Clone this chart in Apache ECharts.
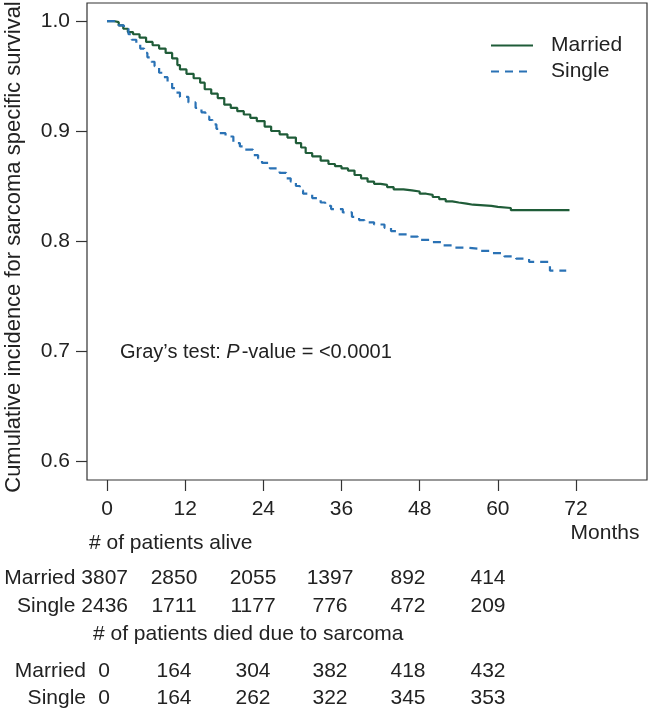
<!DOCTYPE html>
<html>
<head>
<meta charset="utf-8">
<script src="https://cdn.jsdelivr.net/npm/echarts@6/dist/echarts.min.js"></script>
<style>
html,body{margin:0;padding:0;background:#fff;}
#c{width:650px;height:709px;}
</style>
</head>
<body>
<div id="c"></div>
<script>
// ---- data ----
var xTicks = [0, 12, 24, 36, 48, 60, 72];
var yTicks = [0.6, 0.7, 0.8, 0.9, 1.0];
var seriesNames = ['Married', 'Single'];
var married = [
  [0,1.0],[1.0,0.999],[1.8,0.996],[2.5,0.993],[3.2,0.990],[4.0,0.988],[5.0,0.985],[6.0,0.981],
  [7.0,0.978],[8.0,0.975],[9.0,0.971],[10.0,0.966],[10.8,0.960],[11.2,0.956],[12.2,0.952],
  [13.3,0.948],[14.3,0.944],[15.0,0.938],[16.0,0.934],[17.0,0.930],[18.0,0.924],[19.0,0.921],
  [20.0,0.918],[21.0,0.915],[22.0,0.912],[23.0,0.909],[24.2,0.904],[25.2,0.900],[26.5,0.897],
  [27.7,0.894],[29.0,0.889],[29.8,0.885],[30.5,0.880],[31.5,0.877],[32.8,0.873],[34.0,0.870],
  [35.0,0.868],[36.0,0.866],[37.0,0.864],[38.0,0.860],[39.0,0.857],[40.0,0.854],[41.0,0.852],
  [42.0,0.851],[43.0,0.849],[44.0,0.847],[45.5,0.846],[46.8,0.845],[48.0,0.843],[49.0,0.842],
  [50.0,0.840],[51.0,0.838],[52.0,0.836],[53.0,0.835],[54.0,0.834],[55.2,0.833],[56.2,0.832],
  [59.0,0.831],[60.0,0.830],[62.0,0.828],[71.0,0.828]
];
var single = [
  [0,1.0],[1.0,0.999],[1.8,0.996],[2.6,0.993],[3.3,0.988],[3.8,0.983],[4.5,0.979],[5.1,0.975],
  [5.7,0.971],[6.2,0.967],[6.8,0.963],[7.3,0.959],[8.0,0.953],[8.7,0.949],[9.3,0.945],[10.0,0.939],
  [10.6,0.935],[11.2,0.931],[12.5,0.926],[13.6,0.921],[14.5,0.917],[15.1,0.913],[15.7,0.910],
  [16.2,0.906],[16.8,0.902],[17.3,0.898],[18.2,0.895],[19.4,0.889],[20.4,0.886],[21.2,0.883],
  [22.4,0.878],[23.2,0.875],[23.8,0.871],[25.0,0.866],[26.5,0.862],[27.5,0.857],[28.2,0.854],
  [29.0,0.850],[29.6,0.846],[30.1,0.843],[31.5,0.839],[32.8,0.835],[33.5,0.832],[34.4,0.829],
  [36.2,0.826],[37.6,0.822],[38.7,0.819],[39.5,0.817],[41.0,0.815],[42.6,0.812],[43.6,0.809],
  [44.4,0.806],[46.0,0.804],[47.7,0.801],[49.5,0.799],[51.3,0.796],[53.2,0.794],[55.0,0.793],
  [57.2,0.791],[59.0,0.789],[61.0,0.786],[62.8,0.784],[64.8,0.781],[68.0,0.773],[70.5,0.773]
];
var aliveMarried = [3807, 2850, 2055, 1397, 892, 414];
var aliveSingle  = [2436, 1711, 1177, 776, 472, 209];
var diedMarried  = [0, 164, 304, 382, 418, 432];
var diedSingle   = [0, 164, 262, 322, 345, 353];
var aliveTitle = '# of patients alive';
var diedTitle = '# of patients died due to sarcoma';
var yTitle = 'Cumulative incidence for sarcoma specific survival';
var xTitle = 'Months';
var testText = ['Gray\u2019s test: ', 'P', '-value = <0.0001'];

// ---- layout ----
var FONT = 'Liberation Sans, Arial, Helvetica, sans-serif';
var TXT = '#222';
var colX = [104, 174, 253, 330, 408, 488];

var chart = echarts.init(document.getElementById('c'), null, {renderer: 'canvas'});

function txt(s, x, y, align, size) {
  return {type: 'text', x: x, y: y,
    style: {text: s, fill: TXT, font: (size || 21) + 'px ' + FONT, textAlign: align || 'left', textVerticalAlign: 'middle'}};
}
// alive table: name and first count as one right-aligned string
function aliveRow(label, vals, y) {
  var els = [txt(label + ' ' + vals[0], 128, y, 'right')];
  for (var i = 1; i < vals.length; i++) els.push(txt(String(vals[i]), colX[i], y, 'center'));
  return els;
}
function diedRow(label, vals, y) {
  var els = [txt(label, 86, y, 'right')];
  for (var i = 0; i < vals.length; i++) els.push(txt(String(vals[i]), colX[i], y, 'center'));
  return els;
}

var yTitleEl = txt(yTitle, 14, 247, 'center', 22);
yTitleEl.rotation = Math.PI / 2;

var graphics = [
  yTitleEl,
  txt(xTitle, 605, 533, 'center'),
  {type: 'text', x: 120, y: 352, style: {
    text: '{a|' + testText[0] + '}{b|' + testText[1] + '}{a|' + testText[2] + '}',
    textVerticalAlign: 'middle',
    rich: {
      a: {fill: TXT, font: '20px ' + FONT},
      b: {fill: TXT, font: 'italic 20px ' + FONT, padding: [0, 2, 0, 0]}
    }
  }},
  txt(aliveTitle, 89, 543),
  txt(diedTitle, 93, 634)
]
.concat(aliveRow('Married', aliveMarried, 578))
.concat(aliveRow('Single', aliveSingle, 606))
.concat(diedRow('Married', diedMarried, 671))
.concat(diedRow('Single', diedSingle, 698));

var option = {
  backgroundColor: '#fff',
  animation: false,
  textStyle: {fontFamily: FONT},
  grid: {left: 87, top: 3, right: 3, bottom: 229, containLabel: false, outerBoundsMode: 'none',
    show: true, borderColor: '#333', borderWidth: 1.2, backgroundColor: 'transparent'},
  legend: {
    orient: 'vertical', left: 490, top: 35, itemWidth: 42, itemHeight: 14, itemGap: 5, padding: 0,
    data: seriesNames,
    itemStyle: {opacity: 0},
    textStyle: {fontSize: 21, color: TXT, fontFamily: FONT, padding: [0, 0, 0, 13]}
  },
  xAxis: {
    type: 'value', min: -3.07, max: 82.9,
    axisLine: {show: false, onZero: false},
    splitLine: {show: false},
    axisTick: {show: true, inside: false, length: 11, customValues: xTicks, lineStyle: {color: '#333', width: 1.2}},
    axisLabel: {customValues: xTicks, fontSize: 21, color: TXT, margin: 19, fontFamily: FONT}
  },
  yAxis: {
    type: 'value', min: 0.5827, max: 1.0164,
    axisLine: {show: false, onZero: false},
    splitLine: {show: false},
    axisTick: {show: true, inside: false, length: 11, customValues: yTicks, lineStyle: {color: '#333', width: 1.2}},
    axisLabel: {customValues: yTicks, fontSize: 21, color: TXT, margin: 17, fontFamily: FONT,
      formatter: function (v) { return v.toFixed(1); }}
  },
  series: [
    {name: seriesNames[0], type: 'line', step: 'end', data: married, showSymbol: false, symbol: 'none',
     lineStyle: {color: '#1f5c38', width: 2.2}, itemStyle: {color: '#1f5c38'}},
    {name: seriesNames[1], type: 'line', step: 'end', data: single, showSymbol: false, symbol: 'none',
     lineStyle: {color: '#2a72b5', width: 2.2, type: [8, 6]}, itemStyle: {color: '#2a72b5'}}
  ],
  graphic: graphics
};
chart.setOption(option);
</script>
</body>
</html>
